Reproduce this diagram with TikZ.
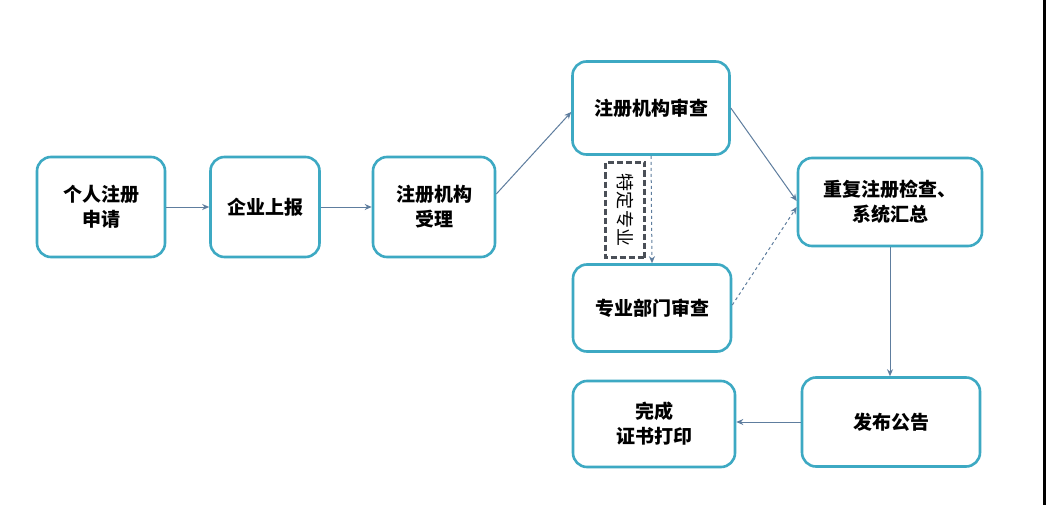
\documentclass[tikz,border=0pt]{standalone}
\usepackage{fontspec}
\newfontfamily\cjk{Noto Sans CJK SC}
\usetikzlibrary{positioning,arrows.meta}
\definecolor{boxline}{HTML}{3DA9C3}
\definecolor{arrline}{HTML}{5E7D9E}
\definecolor{tagline}{HTML}{4A4F57}
\begin{document}
\begin{tikzpicture}[x=1pt,y=-1pt,
  main/.style={draw=boxline,line width=2.6pt,rounded corners=14pt,fill=white,align=center,
    font=\cjk\bfseries\fontsize{19}{25}\selectfont,inner sep=0pt},
  link/.style={draw=arrline,line width=1pt,-{Stealth[length=7pt,width=6pt]}},
  tag/.style={draw=tagline,line width=2.6pt,dash pattern=on 6pt off 3pt,
    font=\cjk\fontsize{18}{22}\selectfont,inner sep=0pt}]
\useasboundingbox (0,0) rectangle (1048,505);
\fill[white] (0,0) rectangle (1048,505);
\node[main,minimum width=128,minimum height=100] (apply) at (101,207) {个人注册\\申请};
\node[main,minimum width=109,minimum height=100] (report) at (265,207) {企业上报};
\node[main,minimum width=122,minimum height=100] (accept) at (434,207) {注册机构\\受理};
\node[main,minimum width=157,minimum height=93] (review) at (651,108) {注册机构审查};
\node[main,minimum width=158,minimum height=87] (dept) at (652,308) {专业部门审查};
\node[main,minimum width=184,minimum height=88] (check) at (890,202) {重复注册检查、\\系统汇总};
\node[main,minimum width=178,minimum height=89] (notice) at (891,422) {发布公告};
\node[main,minimum width=162,minimum height=86] (print) at (654,424) {完成\\证书打印};
\node[tag,rotate=-90,minimum width=95,minimum height=39] (special) at (625,210) {特定专业};
\draw[link] (apply) -- (report);
\draw[link] (report) -- (accept);
\draw[link] ([yshift=13]accept.east) -- ([yshift=-4]review.west);
\draw[link] (review.east) -- ([yshift=1]check.west);
\draw[link,dashed] (review.south) -- (dept.north);
\draw[link,dashed] ([yshift=3]dept.east) -- ([yshift=-5]check.west);
\draw[link] (check.south) -- (notice.north -| check.south);
\draw[link] (notice.west) -- (print.east |- notice.west);
\draw[line width=3pt] (1044.5,0) -- (1044.5,505);
\end{tikzpicture}
\end{document}
